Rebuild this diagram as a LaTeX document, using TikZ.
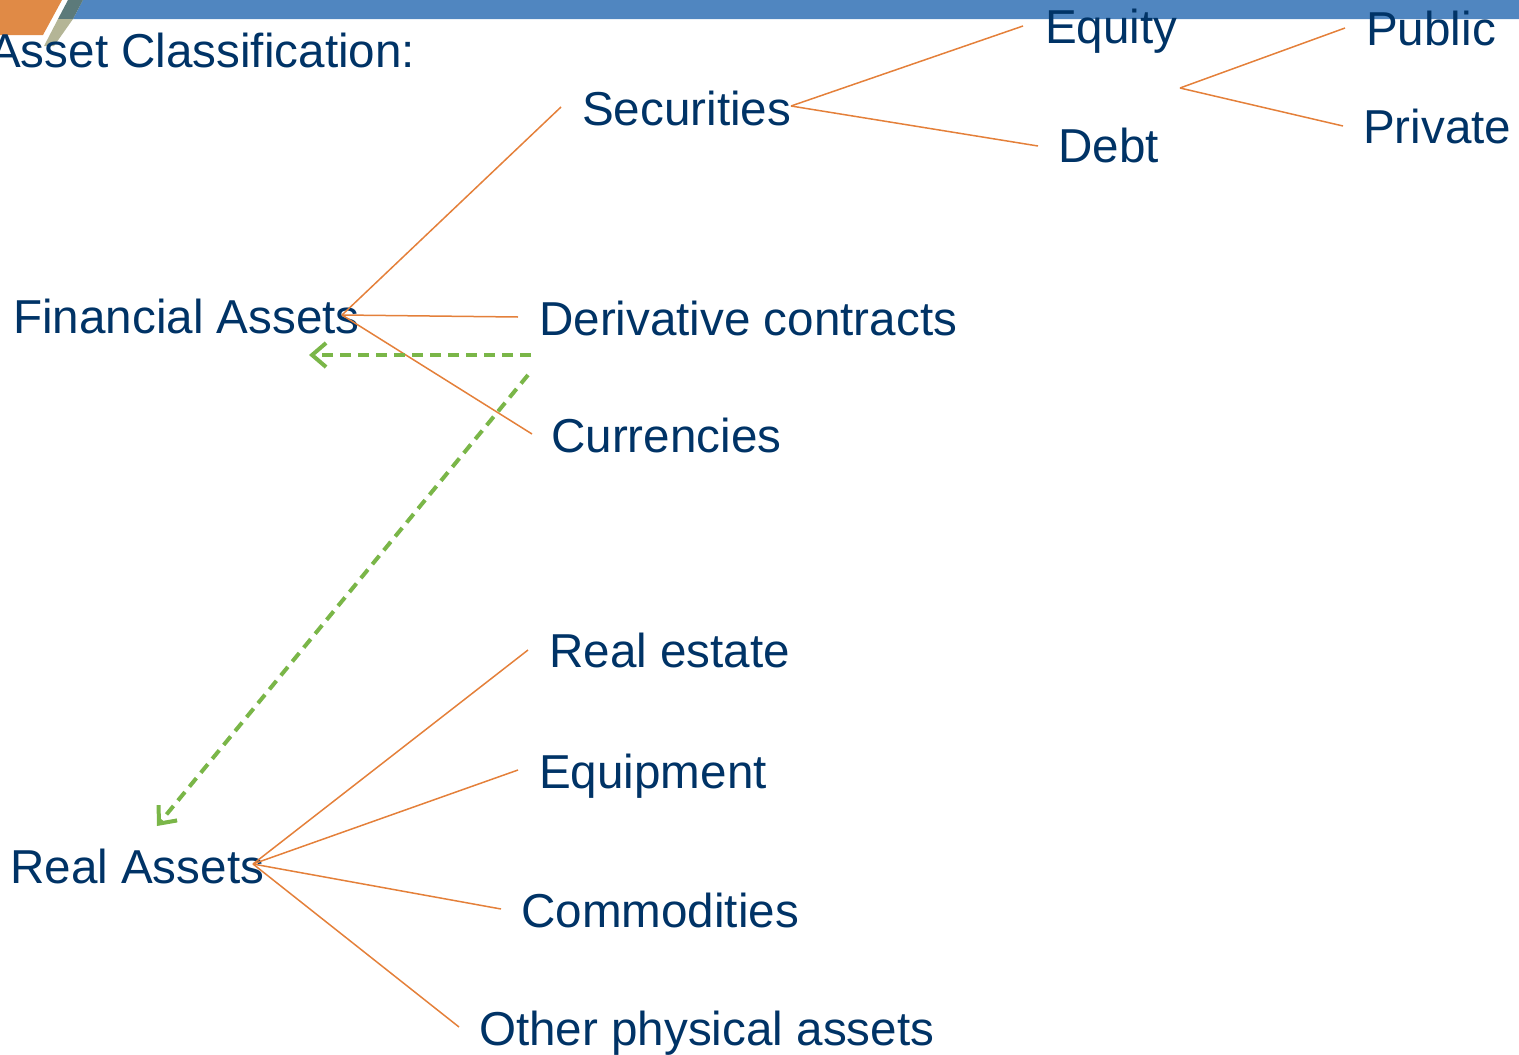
\documentclass[tikz,border=0pt]{standalone}
\usepackage{fontspec}
\setmainfont{Liberation Sans}
\usetikzlibrary{arrows.meta}
\definecolor{txtblue}{RGB}{0,51,102}
\definecolor{lineorange}{RGB}{228,128,58}
\definecolor{dashgreen}{RGB}{122,182,72}
\definecolor{barblue}{RGB}{80,134,192}
\definecolor{decoorange}{RGB}{224,138,70}
\definecolor{stripedark}{RGB}{92,122,122}
\definecolor{stripelight}{RGB}{180,181,150}
\begin{document}
\begin{tikzpicture}[x=1pt,y=-1pt,
  lbl/.style={anchor=base west,inner sep=0pt,text=txtblue,font=\fontsize{47.6}{56}\selectfont},
  branch/.style={draw=lineorange,line width=1.5pt},
  relarrow/.style={draw=dashgreen,line width=4pt,dash pattern=on 11pt off 7pt,
    -{Straight Barb[length=14pt,width=24pt,line width=4pt]}}]
\useasboundingbox (0,0) rectangle (1519,1055);
% header decoration
\fill[barblue] (83,0) -- (1519,0) -- (1519,19) -- (73,19) -- cycle;
\fill[decoorange] (0,0) -- (62,0) -- (43,35) -- (0,35) -- cycle;
\fill[stripedark] (68,0) -- (83,0) -- (73,19) -- (58,19) -- cycle;
\fill[stripelight] (58,19) -- (73,19) -- (54,46) -- (44,46) -- cycle;
% texts
\node[lbl] (title) at (-11,67) {Asset Classification:};
\node[lbl] (fin) at (13,333) {Financial Assets};
\node[lbl] (real) at (10,883) {Real Assets};
\node[lbl] (sec) at (582,125) {Securities};
\node[lbl] (der) at (539,335) {Derivative contracts};
\node[lbl] (cur) at (551,452) {Currencies};
\node[lbl] (equity) at (1045,43) {Equity};
\node[lbl] (debt) at (1058,162) {Debt};
\node[lbl] (public) at (1366,45) {Public};
\node[lbl] (private) at (1363,143) {Private};
\node[lbl] (rest) at (549,667) {Real estate};
\node[lbl] (equip) at (539,788) {Equipment};
\node[lbl] (comm) at (521,927) {Commodities};
\node[lbl] (other) at (479,1045) {Other physical assets};
% junction and end coordinates
\coordinate (jfin) at (342,315);
\coordinate (jsec) at (791,106);
\coordinate (jpp) at (1180,88);
\coordinate (jreal) at (253,864);
\coordinate (esec) at (561,107);
\coordinate (eder) at (518,317);
\coordinate (ecur) at (532,434);
\coordinate (eequity) at (1023,26);
\coordinate (edebt) at (1038,146);
\coordinate (epublic) at (1345,28);
\coordinate (eprivate) at (1343,126);
\coordinate (erest) at (528,650);
\coordinate (eequip) at (518,770);
\coordinate (ecomm) at (501,909);
\coordinate (eother) at (459,1027);
% orange branches
\draw[branch] (jfin) -- (esec);
\draw[branch] (jfin) -- (eder);
\draw[branch] (jfin) -- (ecur);
\draw[branch] (jsec) -- (eequity);
\draw[branch] (jsec) -- (edebt);
\draw[branch] (jpp) -- (epublic);
\draw[branch] (jpp) -- (eprivate);
\draw[branch] (jreal) -- (erest);
\draw[branch] (jreal) -- (eequip);
\draw[branch] (jreal) -- (ecomm);
\draw[branch] (jreal) -- (eother);
% green dashed arrows
\coordinate (ga1s) at (531,355);
\coordinate (ga1e) at (309,355);
\coordinate (ga2s) at (528,375);
\coordinate (ga2e) at (157,826);
\draw[relarrow] (ga1s) -- (ga1e);
\draw[relarrow] (ga2s) -- (ga2e);
\end{tikzpicture}
\end{document}
